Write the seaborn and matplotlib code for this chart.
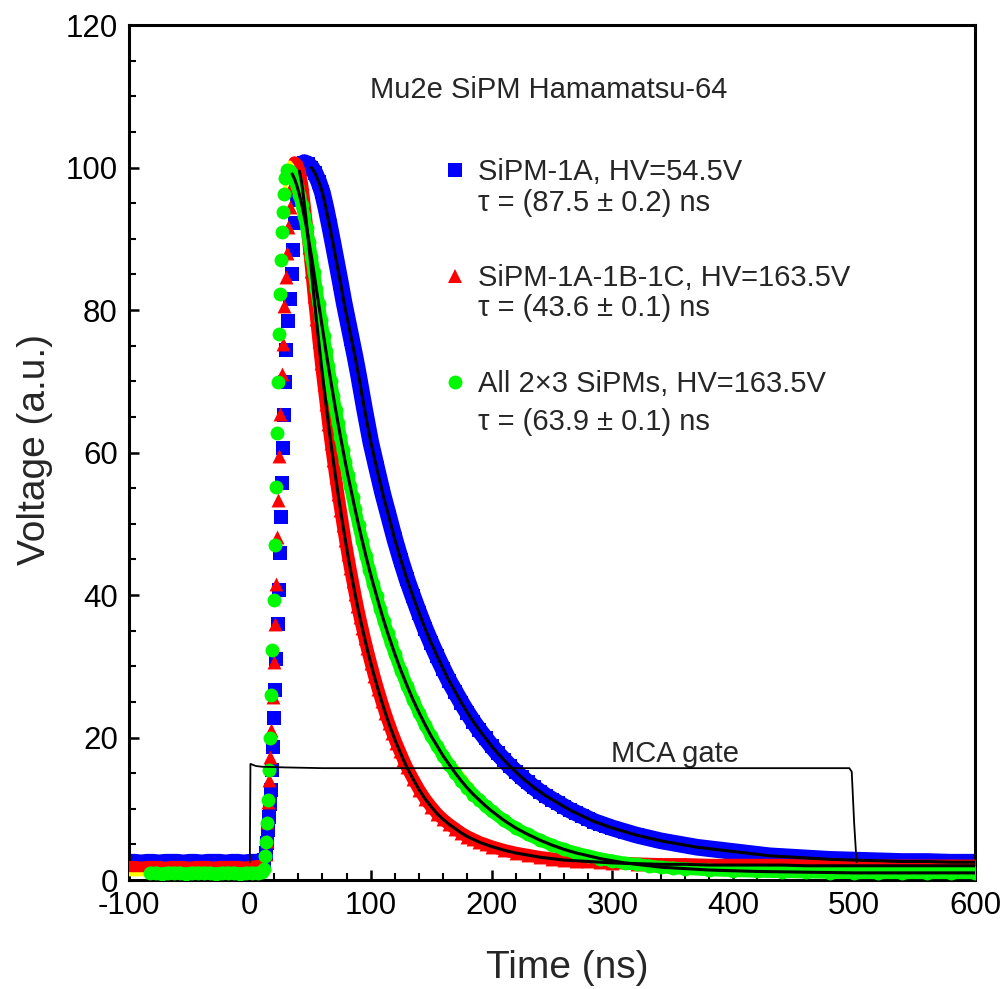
import matplotlib
matplotlib.use("Agg")
import matplotlib.pyplot as plt
from matplotlib.lines import Line2D
from matplotlib.ticker import MultipleLocator
import seaborn as sns

# ---- SiPM-1A, HV=54.5V (blue) ----
blue_base_t = [-100, -95, -90, -85, -80, -75, -70, -65, -60, -55, -50, -45,
               -40, -35, -30, -25, -20, -15, -10, -5, 0, 5, 10]
blue_base_v = [2.5, 2.5, 2.4, 2.5, 2.5, 2.4, 2.5, 2.5, 2.5, 2.4, 2.5, 2.5,
               2.4, 2.5, 2.5, 2.5, 2.4, 2.5, 2.5, 2.4, 2.5, 2.5, 2.6]
blue_rise_t = [12, 13, 14, 15, 16, 17, 17.8, 18.5, 19.2, 20, 21, 22, 23, 24, 25,
               26, 26.8, 27.6, 28.4, 29.3, 30.3, 31.5, 33, 34.5, 36, 37.5, 39, 41, 43]
blue_rise_v = [2.8, 3.8, 5.2, 7.0, 8.8, 10.6, 12.6, 15.5, 18.7, 22.7, 26.7, 31.0, 36.0,
               40.7, 45.9, 51.0, 55.7, 60.6, 65.3, 69.9, 74.4, 78.4, 81.6, 85.1, 88.4,
               92.2, 95.5, 98.0, 99.8]
blue_dec_t = [45, 48, 51, 54, 57, 60, 63, 66, 69, 72, 75, 78, 81, 84, 87, 90, 95, 100,
              105, 110, 115, 120, 125, 130, 135, 140, 145, 150, 155, 160, 165, 170, 175,
              180, 185, 190, 195, 200, 205, 210, 215, 220, 225, 230, 235, 240, 245, 250,
              255, 260, 265, 270, 275, 280, 285, 290, 295, 300, 310, 320, 330, 340, 350,
              360, 370, 380, 390, 400, 410, 420, 430, 440, 450, 460, 470, 480, 490, 500,
              510, 520, 530, 540, 550, 560, 570, 580, 590, 600]
blue_dec_v = [100.7, 100.5, 100.0, 99.2, 98.0, 96.5, 94.3, 91.8, 89.2, 86.5, 83.8, 81.0,
              78.5, 76.0, 73.5, 70.8, 66.0, 61.5, 57.8, 54.2, 51.0, 47.8, 44.9, 42.2, 39.8,
              37.5, 35.3, 33.3, 31.4, 29.6, 27.9, 26.4, 24.9, 23.5, 22.2, 21.0, 19.9, 18.8,
              17.8, 16.9, 16.0, 15.2, 14.4, 13.7, 13.0, 12.4, 11.8, 11.3, 10.8, 10.3, 9.8,
              9.4, 9.0, 8.6, 8.2, 7.9, 7.6, 7.3, 6.8, 6.3, 5.9, 5.5, 5.2, 4.9, 4.6, 4.4,
              4.2, 4.0, 3.8, 3.6, 3.4, 3.3, 3.2, 3.1, 3.0, 2.9, 2.85, 2.8, 2.75, 2.7, 2.65,
              2.6, 2.6, 2.6, 2.55, 2.5, 2.5, 2.5]

# ---- SiPM-1A-1B-1C, HV=163.5V (red) ----
red_base_t = [-100, -95, -90, -85, -80, -75, -70, -65, -60, -55, -50, -45,
              -40, -35, -30, -25, -20, -15, -10, -5, 0, 5, 10]
red_base_v = [1.8, 1.8, 1.7, 1.8, 1.8, 1.8, 1.7, 1.8, 1.8, 1.8, 1.7, 1.8,
              1.8, 1.8, 1.7, 1.8, 1.8, 1.8, 1.8, 1.7, 1.8, 1.9, 2.0]
red_rise_t = [12, 13, 13.8, 14.5, 15.2, 16, 16.8, 17.8, 18.8, 19.8, 20.8, 21.8, 22.8,
              23.6, 24.4, 25.3, 26.3, 27.5, 28.6, 29.6, 30.7, 31.8, 33, 34.3, 35.7]
red_rise_v = [2.4, 3.6, 5.5, 8.2, 11.0, 14.0, 17.3, 21.0, 25.7, 30.6, 36.0, 41.6, 48.2,
              53.3, 59.5, 65.4, 71.0, 75.3, 80.5, 84.7, 88.0, 91.7, 94.5, 97.3, 99.5]
red_dec_t = [37, 39, 41, 43, 45, 47, 49, 51, 53, 55, 57, 59, 61, 63, 65, 67, 69, 71, 73,
             75, 77, 79, 81, 83, 85, 87, 89, 91, 93, 95, 97, 100, 103, 106, 109, 112, 115,
             118, 121, 124, 127, 130, 135, 140, 145, 150, 155, 160, 165, 170, 175, 180,
             185, 190, 195, 200, 210, 220, 230, 240, 250, 260, 270, 280, 290, 300, 320,
             340, 360, 380, 400, 420, 440, 460, 480, 500, 520, 540, 560, 580, 600]
red_dec_v = [100.7, 100.4, 99.5, 97.8, 95.0, 92.0, 88.8, 85.5, 82.0, 78.8, 75.6, 72.5,
             69.6, 66.8, 64.0, 61.4, 58.9, 56.5, 54.2, 52.0, 49.8, 47.7, 45.7, 43.8, 42.0,
             40.2, 38.5, 36.9, 35.4, 33.9, 32.5, 30.5, 28.6, 26.8, 25.1, 23.5, 22.0, 20.6,
             19.3, 18.1, 16.9, 15.8, 14.2, 12.7, 11.4, 10.3, 9.3, 8.5, 7.8, 7.2, 6.6, 6.1,
             5.7, 5.3, 5.0, 4.7, 4.2, 3.8, 3.5, 3.2, 3.0, 2.8, 2.7, 2.6, 2.5, 2.4, 2.3,
             2.2, 2.2, 2.1, 2.1, 2.1, 2.1, 2.0, 2.0, 2.0, 2.0, 2.0, 2.0, 2.0, 2.0]

# ---- All 2x3 SiPMs, HV=163.5V (green) ----
green_base_t = [-83, -78, -73, -68, -63, -58, -53, -48, -43, -38, -33, -28, -23,
                -18, -13, -8, -3, 2, 7, 10]
green_base_v = [1.0, 1.0, 0.9, 1.0, 1.0, 1.0, 0.9, 1.0, 1.0, 1.0, 1.0, 0.9, 1.0,
                1.0, 1.0, 0.9, 1.0, 1.0, 1.0, 1.1]
green_rise_t = [12, 12.8, 13.5, 14.1, 14.8, 15.5, 16.3, 17.2, 18.5, 19.8, 20.8, 21.5,
                22.3, 23.3, 24.3, 25.2, 26.2, 27, 27.6, 28.3, 29.3]
green_rise_v = [1.6, 3.3, 5.3, 8.0, 11.2, 15.4, 20.0, 26.0, 32.3, 39.3, 47.0, 55.2,
                62.7, 69.9, 76.6, 82.3, 87.0, 91.0, 93.8, 96.3, 98.5]
green_dec_t = [31, 33, 35, 37, 39, 41, 43, 45, 47, 49, 51, 53, 55, 57, 59, 61, 63, 65,
               67, 69, 71, 73, 75, 77, 79, 81, 83, 85, 87, 90, 93, 96, 99, 102, 105, 108,
               111, 114, 117, 120, 125, 130, 135, 140, 145, 150, 155, 160, 165, 170, 175,
               180, 185, 190, 195, 200, 210, 220, 230, 240, 250, 260, 270, 280, 290, 300,
               310, 320, 330, 340, 350, 360, 380, 400, 420, 440, 460, 480, 500, 520, 540,
               560, 580, 600]
green_dec_v = [99.6, 99.5, 99.1, 98.4, 97.4, 96.2, 94.8, 93.2, 91.5, 89.5, 87.5, 85.3,
               83.0, 80.8, 78.6, 76.4, 74.2, 72.1, 70.0, 68.0, 66.0, 64.1, 62.2, 60.4, 58.6,
               56.9, 55.3, 53.7, 52.1, 49.8, 47.6, 45.5, 43.5, 41.6, 39.8, 38.0, 36.3, 34.7,
               33.2, 31.7, 29.4, 27.3, 25.3, 23.5, 21.8, 20.2, 18.8, 17.4, 16.2, 15.0, 13.9,
               12.9, 12.0, 11.2, 10.4, 9.7, 8.4, 7.3, 6.4, 5.6, 4.9, 4.3, 3.8, 3.4, 3.0, 2.7,
               2.4, 2.2, 2.0, 1.8, 1.7, 1.6, 1.4, 1.3, 1.2, 1.15, 1.1, 1.05, 1.0, 1.0, 1.0,
               1.0, 1.0, 1.0]

# ---- extra yellow trace, mostly hidden under green ----
yellow_base_t = [-100, -90, -80, -70, -60, -50, -40, -30, -20, -10, 0, 10]
yellow_base_v = [0.8, 0.8, 0.8, 0.8, 0.8, 0.8, 0.8, 0.8, 0.8, 0.8, 0.8, 0.9]
yellow_dec_t = [29, 31, 33, 35, 38, 41, 44, 47, 50, 53, 56, 59, 62, 65, 70,
                80, 90, 100, 120, 150, 200, 250, 300, 400, 500, 600]
yellow_dec_v = [97.0, 99.5, 100.7, 100.3, 99.0, 96.5, 93.5, 90.0, 86.5, 83.0, 79.5,
                76.3, 73.3, 70.5, 66.0, 57.5, 49.8, 42.8, 31.8, 20.3, 9.7, 4.9, 2.7,
                1.4, 1.1, 1.1]

# ---- MCA gate ----
gate_t = [0, 0.5, 2, 5, 10, 30, 60, 496, 498, 500, 502]
gate_v = [2.5, 16.3, 16.2, 16.0, 15.9, 15.8, 15.7, 15.7, 15.2, 8.0, 2.5]

labels = ["SiPM-1A, HV=54.5V", "SiPM-1A-1B-1C, HV=163.5V", "All 2\u00d73 SiPMs, HV=163.5V"]
tau_labels = ["\u03c4 = (87.5 \u00b1 0.2) ns", "\u03c4 = (43.6 \u00b1 0.1) ns",
              "\u03c4 = (63.9 \u00b1 0.1) ns"]

sns.set_style("ticks")
plt.rcParams['font.family'] = ['Liberation Sans', 'DejaVu Sans']
plt.rcParams['axes.unicode_minus'] = False

fig = plt.figure(figsize=(10.06, 9.89), dpi=100)
ax = fig.add_axes([0.1282, 0.1102, 0.841, 0.8645])

BLUE, RED, GREEN, YELLOW = '#0000ff', '#ff0000', '#00f800', '#ffff00'
MS = 10  # marker size in points


def draw_series(base_t, base_v, rise_t, rise_v, dec_t, dec_v, color, marker, band_lw, zo):
    # dense data: a thick band for baseline and decay, single markers on the fast rise
    sns.lineplot(x=base_t, y=base_v, ax=ax, color=color, linewidth=band_lw,
                 sort=False, estimator=None, solid_capstyle='butt', zorder=zo)
    sns.lineplot(x=dec_t, y=dec_v, ax=ax, color=color, linewidth=band_lw,
                 sort=False, estimator=None, solid_capstyle='round', zorder=zo)
    for xs, ys in [(base_t, base_v), (rise_t, rise_v), (dec_t, dec_v)]:
        sns.scatterplot(x=xs, y=ys, ax=ax, color=color, marker=marker, s=MS ** 2,
                        linewidth=0, zorder=zo)


draw_series(blue_base_t, blue_base_v, blue_rise_t, blue_rise_v, blue_dec_t, blue_dec_v,
            BLUE, 's', 12, 2)
draw_series(red_base_t, red_base_v, red_rise_t, red_rise_v, red_dec_t, red_dec_v,
            RED, '^', 9, 3)
for yt, yv in [(yellow_base_t, yellow_base_v), (yellow_dec_t, yellow_dec_v)]:
    sns.lineplot(x=yt, y=yv, ax=ax, color=YELLOW, linewidth=3, sort=False,
                 estimator=None, zorder=3.5)
draw_series(green_base_t, green_base_v, green_rise_t, green_rise_v, green_dec_t, green_dec_v,
            GREEN, 'o', 9, 4)

# exponential fits (black) on top of the data
for dt, dv in [(blue_dec_t, blue_dec_v), (red_dec_t, red_dec_v), (green_dec_t, green_dec_v)]:
    sns.lineplot(x=dt[2:], y=dv[2:], ax=ax, color='black', linewidth=2.2,
                 sort=False, estimator=None, zorder=6)

sns.lineplot(x=gate_t, y=gate_v, ax=ax, color='black', linewidth=1.3, sort=False,
             estimator=None, zorder=5)
ax.text(299, 16.5, "MCA gate", fontsize=21, va='baseline', ha='left')

ax.text(0.2844, 0.9143, "Mu2e SiPM Hamamatsu-64", transform=ax.transAxes,
        fontsize=21, va='baseline', ha='left')

handles = [Line2D([], [], ls='none', marker='s', ms=MS, color=BLUE, mew=0),
           Line2D([], [], ls='none', marker='^', ms=MS, color=RED, mew=0),
           Line2D([], [], ls='none', marker='o', ms=MS, color=GREEN, mew=0)]
leg = ax.legend(handles, labels, loc='upper left', bbox_to_anchor=(0.3721, 0.8444),
                frameon=False, fontsize=21, borderpad=0, borderaxespad=0,
                handlelength=0.8, handletextpad=0.37, labelspacing=2.68)
tau_gap = [24.6, 23.9, 31.6]  # pixels below first line
for txt, tl, gap in zip(leg.get_texts(), tau_labels, tau_gap):
    ax.annotate(tl, xy=(0, 0), xycoords=txt, xytext=(0, -gap), textcoords='offset pixels',
                fontsize=21, va='baseline', ha='left', zorder=7)

ax.set_xlim(-100, 600)
ax.set_ylim(0, 120)
ax.xaxis.set_major_locator(MultipleLocator(100))
ax.xaxis.set_minor_locator(MultipleLocator(20))
ax.yaxis.set_major_locator(MultipleLocator(20))
ax.yaxis.set_minor_locator(MultipleLocator(5))
ax.tick_params(which='both', direction='in', top=False, right=False, color='black',
               labelcolor='black')
ax.tick_params(which='major', length=7.5, width=1.8, labelsize=22.5, pad=8)
ax.tick_params(which='minor', length=5, width=1.5)
for sp in ax.spines.values():
    sp.set_linewidth(2.2)
    sp.set_color('black')

ax.set_xlabel("Time (ns)", fontsize=28)
ax.set_ylabel("Voltage (a.u.)", fontsize=28)
ax.xaxis.set_label_coords(0.5177, -0.0813)
ax.yaxis.set_label_coords(-0.0896, 0.503)

fig.canvas.draw()
fig.savefig("out.png", dpi=100)
